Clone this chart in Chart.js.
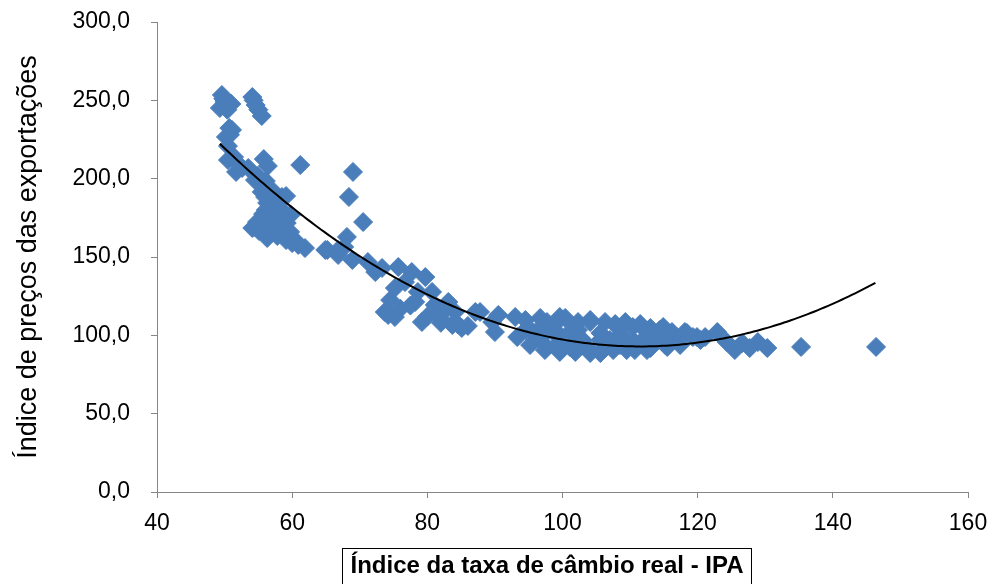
<!DOCTYPE html>
<html>
<head>
<meta charset="utf-8">
<script src="https://cdn.jsdelivr.net/npm/chart.js@4.4.1/dist/chart.umd.min.js"></script>
<style>
body { margin: 0; background: #fff; }
#wrap { width: 993px; height: 584px; }
</style>
</head>
<body>
<div id="wrap"><canvas id="chartData" width="993" height="584"></canvas></div>
<script>
// Índice da taxa de câmbio real - IPA (x) vs índice de preços das exportações (y)
var cambio = [
    49.6, 50.2, 49.3, 51.0, 54.1, 54.6, 55.5, 50.7, 50.2, 50.5,
    50.5, 51.4, 52.0, 55.8, 56.4, 61.2, 54.9, 56.1, 57.0, 56.0,
    57.8, 58.5, 56.1, 54.8, 55.7, 57.3, 58.3, 59.7, 60.4, 61.9,
    59.1, 55.1, 57.8, 59.1, 59.8, 52.6, 58.5, 56.3, 54.5, 57.5,
    59.2, 60.0, 64.9, 66.8, 69.0, 68.4, 70.5, 68.1, 67.7, 65.2,
    66.8, 68.9, 71.2, 72.3, 73.3, 75.7, 77.7, 79.7, 75.2, 73.7,
    75.2, 78.2, 79.2, 78.6, 80.7, 81.1, 83.1, 83.7, 85.1, 87.1,
    84.1, 89.6, 76.7, 74.5, 81.9, 82.6, 87.8, 90.5, 93.0, 90.0,
    93.3, 95.6, 97.7, 99.6, 98.6, 101.1, 104.1, 103.0, 105.6, 108.1,
    109.0, 110.4, 111.9, 114.9, 113.4, 107.5, 104.1, 109.5, 116.9, 118.4,
    119.3, 101.1, 97.7, 105.6, 112.5, 115.5, 96.7, 99.6, 102.6, 107.0,
    110.7, 102.3, 94.5, 120.4, 119.9, 121.1, 122.9, 124.3, 125.5, 126.6,
    127.7, 128.9, 130.3, 135.3, 146.4,
    94.5, 96.7, 98.9, 100.4, 102.3, 104.1, 106.3, 107.8, 109.3, 111.5,
    113.0, 114.4, 116.2, 118.1, 95.2, 97.4, 99.6, 101.9, 104.1, 106.3,
    108.5, 110.7, 113.0, 115.2, 117.4, 99.6, 102.6, 105.6, 108.5, 112.2,
    115.2, 96.7,
    53.5, 54.5, 55.5, 56.7, 57.6, 55.7, 56.7, 58.1, 59.0, 60.9,
    56.3, 54.1, 51.1, 51.7,
    50.0, 49.8, 50.4, 54.3, 55.0, 50.8,
    74.2, 76.0, 77.5, 80.0, 82.0, 84.5, 86.0
];
var precos = [
    253.4, 250.2, 245.1, 247.7, 252.1, 247.0, 240.0, 232.3, 226.6, 220.8,
    211.9, 213.8, 209.4, 212.5, 208.1, 208.7, 201.7, 198.5, 192.8, 188.3,
    187.7, 180.0, 180.0, 172.3, 177.4, 173.0, 168.5, 166.0, 160.8, 155.7,
    160.8, 166.6, 163.4, 188.9, 176.8, 206.8, 188.3, 184.5, 169.1, 167.2,
    171.7, 158.9, 154.5, 154.5, 204.3, 188.3, 172.3, 162.8, 156.4, 154.5,
    151.3, 148.1, 146.8, 140.4, 143.0, 143.6, 140.4, 137.2, 130.2, 114.9,
    111.7, 121.3, 108.5, 127.7, 127.7, 119.4, 121.3, 106.6, 104.7, 114.9,
    114.9, 108.5, 134.0, 122.5, 111.1, 116.2, 114.9, 113.0, 111.7, 102.1,
    98.9, 102.1, 108.5, 111.7, 102.1, 102.1, 108.5, 97.0, 101.5, 105.3,
    98.9, 105.3, 104.7, 105.3, 97.0, 90.6, 88.7, 90.6, 98.9, 101.5,
    98.9, 92.6, 92.6, 88.7, 90.6, 92.6, 98.3, 95.7, 93.8, 97.0,
    95.7, 103.4, 103.4, 97.0, 98.9, 98.9, 102.1, 95.7, 90.6, 95.1,
    91.9, 95.7, 91.9, 92.6, 92.6,
    109.8, 111.1, 107.2, 111.1, 108.5, 109.8, 108.5, 107.2, 108.5, 107.2,
    104.7, 103.4, 102.1, 102.1, 93.8, 90.6, 89.4, 89.4, 90.6, 91.9,
    93.8, 90.6, 91.9, 93.8, 93.8, 100.2, 98.3, 97.0, 100.2, 98.3,
    98.3, 104.7,
    206.8, 199.1, 191.5, 185.1, 178.7, 169.8, 167.2, 174.9, 163.4, 157.7,
    162.1, 168.5, 231.1, 204.3,
    249.0, 251.0, 244.0, 250.0, 244.0, 228.0,
    113.0, 117.0, 119.0, 112.0, 108.0, 107.0, 106.0
];
var xTicks = [40, 60, 80, 100, 120, 140, 160];
var yTicks = [0, 50, 100, 150, 200, 250, 300];
var xTitle = 'Índice da taxa de câmbio real - IPA';
var yTitle = 'Índice de preços das exportações';

var fontName = '"Liberation Sans", Arial, sans-serif';

// polynomial trendline (order 2), least squares like the spreadsheet does
function quadFit(xs, ys) {
    var s = [0, 0, 0, 0, 0], t = [0, 0, 0];
    for (var i = 0; i < xs.length; i++) {
        var p = 1;
        for (var k = 0; k < 5; k++) {
            s[k] += p;
            if (k < 3) t[k] += p * ys[i];
            p *= xs[i];
        }
    }
    var m = [[s[0], s[1], s[2], t[0]], [s[1], s[2], s[3], t[1]], [s[2], s[3], s[4], t[2]]];
    for (var c = 0; c < 3; c++) {
        for (var r = c + 1; r < 3; r++) {
            var f = m[r][c] / m[c][c];
            for (var j = c; j < 4; j++) m[r][j] -= f * m[c][j];
        }
    }
    var b = [0, 0, 0];
    for (var r2 = 2; r2 >= 0; r2--) {
        var v = m[r2][3];
        for (var j2 = r2 + 1; j2 < 3; j2++) v -= m[r2][j2] * b[j2];
        b[r2] = v / m[r2][r2];
    }
    return b;
}

var coef = quadFit(cambio, precos);
var xMin = Math.min.apply(null, cambio);
var xMax = Math.max.apply(null, cambio);
var trendPoints = [];
for (var x = xMin; x <= xMax + 0.001; x += 0.5) {
    trendPoints.push({ x: x, y: coef[0] + coef[1] * x + coef[2] * x * x });
}

var scatterPoints = cambio.map(function (v, i) {
    return { x: v, y: precos[i] };
});

function virgula(v) {
    return v.toFixed(1).replace('.', ',');
}

// boxed x axis title
var boxTitle = {
    id: 'boxTitle',
    afterDraw: function (chart) {
        var c = chart.ctx;
        c.save();
        c.font = 'bold 24px ' + fontName;
        var w = c.measureText(xTitle).width;
        var cx = 547, cy = 566;
        c.strokeStyle = '#000';
        c.lineWidth = 1;
        c.strokeRect(Math.round(cx - w / 2 - 8) + 0.5, 548.5, Math.round(w + 16), 60);
        c.fillStyle = '#000';
        c.textAlign = 'center';
        c.textBaseline = 'middle';
        c.fillText(xTitle, cx, cy);
        c.restore();
    }
};

var ctx = document.getElementById('chartData').getContext('2d');
var chartData = new Chart(ctx, {
    type: 'scatter',
    data: {
        datasets: [{
            label: 'Tendência',
            data: trendPoints,
            showLine: true,
            borderColor: '#000',
            borderWidth: 2,
            pointRadius: 0,
            fill: false,
            order: 0
        }, {
            label: 'Dados',
            data: scatterPoints,
            pointStyle: 'rectRot',
            pointRadius: 9.5,
            backgroundColor: '#4A7EBB',
            borderColor: '#4A7EBB',
            borderWidth: 1,
            order: 1
        }]
    },
    options: {
        responsive: false,
        animation: false,
        layout: { padding: { top: 22, right: 25, left: 0, bottom: 0 } },
        plugins: {
            legend: { display: false },
            tooltip: { enabled: false }
        },
        scales: {
            x: {
                type: 'linear',
                min: xTicks[0],
                max: xTicks[xTicks.length - 1],
                afterBuildTicks: function (scale) {
                    scale.ticks = xTicks.map(function (v) { return { value: v }; });
                },
                afterFit: function (scale) {
                    scale.height = 92;
                    scale.paddingLeft = 0;
                    scale.paddingRight = 0;
                },
                grid: { drawOnChartArea: false, drawTicks: true, tickLength: 6, color: '#868686' },
                border: { display: true, color: '#868686', width: 1 },
                ticks: {
                    color: '#000',
                    padding: 12,
                    maxRotation: 0,
                    font: { family: fontName, size: 23 }
                }
            },
            y: {
                type: 'linear',
                min: yTicks[0],
                max: yTicks[yTicks.length - 1],
                afterBuildTicks: function (scale) {
                    scale.ticks = yTicks.map(function (v) { return { value: v }; });
                },
                afterFit: function (scale) {
                    scale.width = 157;
                    scale.paddingTop = 0;
                    scale.paddingBottom = 0;
                },
                grid: { drawOnChartArea: false, drawTicks: true, tickLength: 6, color: '#868686' },
                border: { display: true, color: '#868686', width: 1 },
                ticks: {
                    color: '#000',
                    padding: 21,
                    callback: function (v) { return virgula(v); },
                    font: { family: fontName, size: 23 }
                },
                title: {
                    display: true,
                    text: yTitle,
                    color: '#000',
                    padding: { top: 12, bottom: 0 },
                    font: { family: fontName, size: 27 }
                }
            }
        }
    },
    plugins: [boxTitle]
});
</script>
</body>
</html>
